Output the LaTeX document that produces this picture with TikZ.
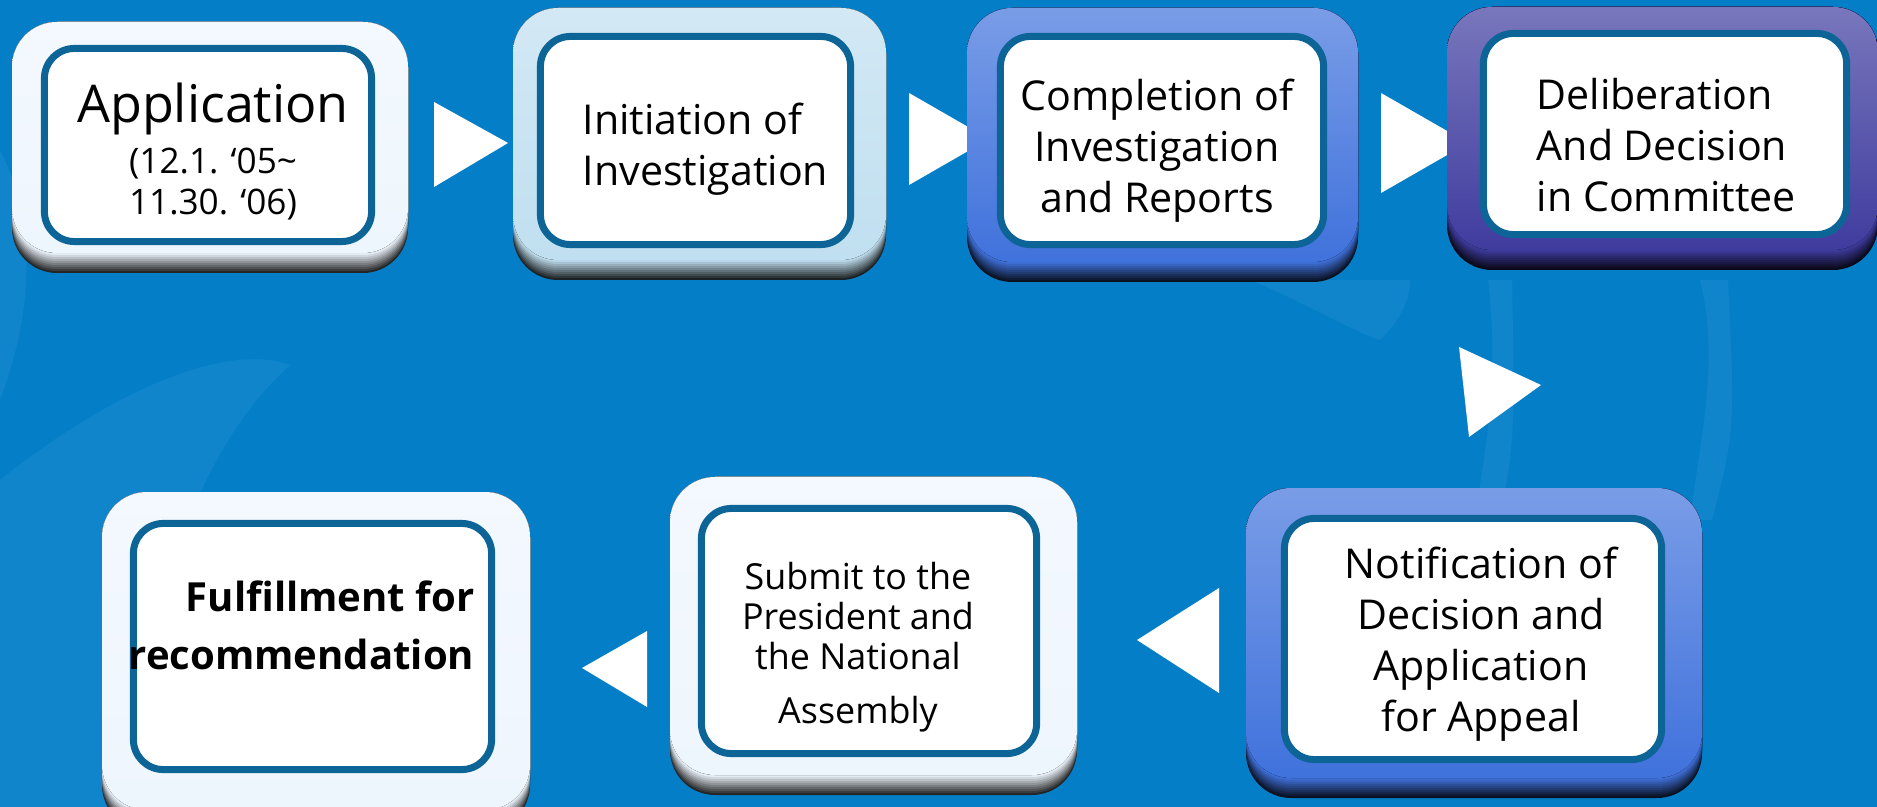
\documentclass[tikz,border=0pt]{standalone}
\usepackage{fontspec}
\setmainfont{Open Sans}

\definecolor{bgblue}{HTML}{047FC7}
\definecolor{swirl}{HTML}{2C95D6}
\definecolor{edgeblue}{HTML}{0C6596}
\definecolor{palefr}{HTML}{EEF6FD}
\definecolor{lightfr}{HTML}{C0DFF0}
\definecolor{royalfr}{HTML}{4072DC}
\definecolor{indigofr}{HTML}{3F3C9F}

\tikzset{
  stepbox/.style={draw=edgeblue, line width=0.07cm, rounded corners=0.3cm, fill=white, inner sep=0pt},
  steptext/.style={inner sep=0pt, font=\fontsize{11.7pt}{14.5pt}\selectfont},
  pointer/.style={fill=white},
}

% frame with a dark bevel at the bottom: x1 y1 x2 y2 colour
\newcommand{\stepframe}[5]{%
  \foreach \k in {0,...,9}{
    \pgfmathtruncatemacro{\dk}{15+\k*9}
    \fill[rounded corners=0.45cm, #5!\dk!black] (#1,#2) rectangle (#3,#4-2*\k);
  }
  \fill[rounded corners=0.45cm, top color=#5!70!white, middle color=#5, bottom color=#5] (#1,#2) rectangle (#3,#4-20);
}

\begin{document}
\begin{tikzpicture}[x=0.01cm, y=-0.01cm]
  \useasboundingbox (0,0) rectangle (1877,807);
  \clip (0,0) rectangle (1877,807);
  \fill[bgblue] (0,0) rectangle (1877,807);

  % background swirls
  \begin{scope}[opacity=0.3]
    \fill[swirl] (0,480) .. controls (100,400) and (220,340) .. (290,365) .. controls (230,420) and (160,520) .. (120,807) -- (0,807) -- cycle;
    \fill[swirl] (1250,280) .. controls (1300,300) and (1350,330) .. (1380,340) .. controls (1400,320) and (1410,300) .. (1410,280) -- cycle;
    \fill[swirl] (1488,280) .. controls (1500,380) and (1485,460) .. (1470,540) -- (1496,540) .. controls (1515,440) .. (1512,280) -- cycle;
    \fill[swirl] (1700,280) .. controls (1720,360) and (1700,440) .. (1690,520) -- (1712,520) .. controls (1735,430) .. (1728,280) -- cycle;
    \fill[swirl] (0,150) .. controls (40,230) and (30,320) .. (0,400) -- cycle;
  \end{scope}

  % pointers
  \fill[pointer] (434,102) -- (508,143) -- (434,187) -- cycle;
  \fill[pointer] (909,93) -- (989,139) -- (909,185) -- cycle;
  \fill[pointer] (1381,93) -- (1468,143) -- (1381,193) -- cycle;
  \fill[pointer] (1459,347) -- (1541,385) -- (1469,437) -- cycle;
  \fill[pointer] (1219,588) -- (1137,640) -- (1219,693) -- cycle;
  \fill[pointer] (647,631) -- (582,668) -- (647,707) -- cycle;

  % frames
  \stepframe{12}{22}{408}{273}{palefr}
  \stepframe{513}{8}{886}{280}{lightfr}
  \stepframe{967}{8}{1358}{282}{royalfr}
  \stepframe{1447}{7}{1878}{270}{indigofr}
  \stepframe{1246}{488}{1702}{798}{royalfr}
  \stepframe{102}{492}{530}{830}{palefr}
  \stepframe{670}{477}{1077}{795}{palefr}

  % inner boxes
  \node[stepbox, minimum width=3.27cm, minimum height=1.93cm] (application) at (208,145) {};
  \node[stepbox, minimum width=3.10cm, minimum height=2.08cm] (initiation) at (695.5,140.5) {};
  \node[stepbox, minimum width=3.23cm, minimum height=2.08cm] (completion) at (1162,140.5) {};
  \node[stepbox, minimum width=3.63cm, minimum height=2.01cm] (deliberation) at (1665,134) {};
  \node[stepbox, minimum width=3.77cm, minimum height=2.41cm] (notification) at (1473,639) {};
  \node[stepbox, minimum width=3.58cm, minimum height=2.46cm] (fulfillment) at (312.5,646.5) {};
  \node[stepbox, minimum width=3.35cm, minimum height=2.45cm] (submission) at (869,631) {};

  % texts
  \node[steptext, align=center, font=\fontsize{10pt}{11.7pt}\selectfont] (applicationText) at (213,151.6)
    {{\fontsize{14.8pt}{17pt}\selectfont Application}\\[0.09cm] (12.1. ‘05\textasciitilde\\ 11.30. ‘06)};
  \node[steptext, align=left, anchor=west] (initiationText) at (582,149.3)
    {Initiation of\\ Investigation};
  \node[steptext, align=center] (completionText) at (1157,150.3)
    {Completion of\\ Investigation\\ and Reports};
  \node[steptext, align=left, anchor=west] (deliberationText) at (1536,145.4)
    {Deliberation\\ And Decision\\ in Committee};
  \node[steptext, align=center] (notificationText) at (1481,644.3)
    {Notification of\\ Decision and\\ Application\\ for Appeal};
  \node[steptext, align=center, font=\fontsize{10.2pt}{11.4pt}\selectfont] (submissionText) at (858,647.1)
    {Submit to the\\ President and\\ the National\\[0.13cm] Assembly};
  \node[steptext, align=right, anchor=east, font=\fontsize{11.4pt}{16.5pt}\selectfont\bfseries] (fulfillmentText) at (475,625.8)
    {Fulfillment for\\ recommendation};
\end{tikzpicture}
\end{document}
